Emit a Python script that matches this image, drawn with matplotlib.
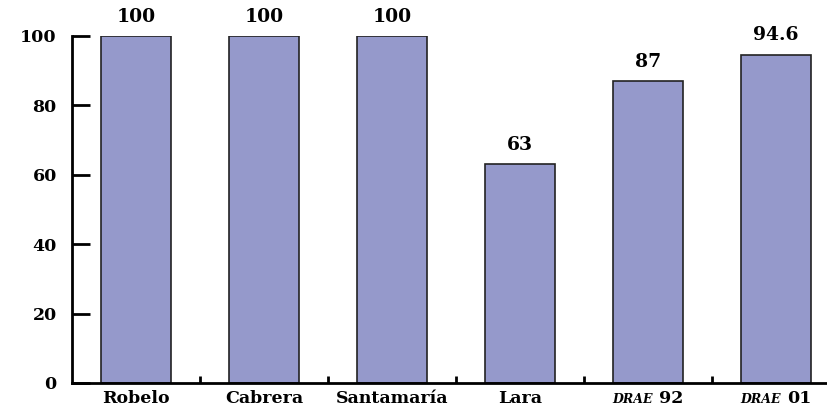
import matplotlib.pyplot as plt
from matplotlib.offsetbox import TextArea, HPacker, AnnotationBbox

# percentages per dictionary / author
sources = ["Robelo", "Cabrera", "Santamaría", "Lara", "DRAE 92", "DRAE 01"]
values = [100, 100, 100, 63, 87, 94.6]
value_labels = ["100", "100", "100", "63", "87", "94.6"]
y_ticks = [0, 20, 40, 60, 80, 100]

bar_color = "#9599cb"
font = "DejaVu Serif"

fig = plt.figure(figsize=(8.27, 4.07), dpi=100)
ax = fig.add_axes([0.0871, 0.059, 0.913, 0.8526])

x = list(range(len(sources)))
ax.bar(x, values, width=0.55, color=bar_color, edgecolor="#222222", linewidth=1.2)

for xi, v, lab in zip(x, values, value_labels):
    ax.text(xi, v + 3.0, lab, ha="center", va="bottom", family=font,
            fontweight="bold", fontsize=13.5, clip_on=False)

ax.set_xlim(-0.5, 5.4)
ax.set_ylim(0, 100)

ax.spines["top"].set_visible(False)
ax.spines["right"].set_visible(False)
ax.spines["left"].set_linewidth(2)
ax.spines["bottom"].set_linewidth(2)

ax.set_yticks(y_ticks)
ax.set_yticklabels([str(t) for t in y_ticks], family=font, fontweight="bold", fontsize=12.5)
ax.tick_params(axis="y", direction="in", length=13, width=2, pad=11)

# ticks sit between the categories
ax.set_xticks([i + 0.5 for i in x[:-1]])
ax.set_xticklabels([])
ax.tick_params(axis="x", direction="in", length=5, width=2)

# category names below the axis; DRAE is set in italic small caps style
for xi, name in zip(x, sources):
    if name.startswith("DRAE"):
        parts = [TextArea("DRAE", textprops=dict(family=font, style="italic",
                                                 fontweight="bold", fontsize=9)),
                 TextArea(name.split()[1], textprops=dict(family=font,
                                                          fontweight="bold", fontsize=12.5))]
        box = HPacker(children=parts, align="baseline", pad=0, sep=4)
    else:
        box = TextArea(name, textprops=dict(family=font, fontweight="bold", fontsize=12.5))
    ab = AnnotationBbox(box, (xi, 0), xycoords=("data", "axes fraction"),
                        xybox=(0, -5), boxcoords="offset points",
                        box_alignment=(0.5, 1.0), frameon=False,
                        annotation_clip=False)
    ax.add_artist(ab)

fig.savefig("out.png", dpi=100)
